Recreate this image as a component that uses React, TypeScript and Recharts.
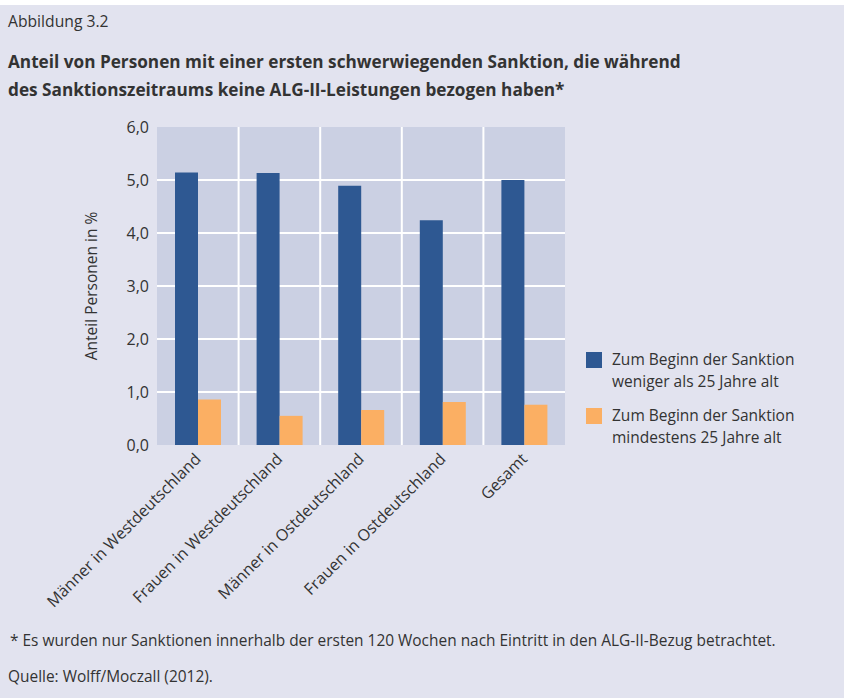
import React from "react";
import { BarChart, Bar, XAxis, YAxis, CartesianGrid, Legend } from "recharts";

const categories = [
  "Männer in Westdeutschland",
  "Frauen in Westdeutschland",
  "Männer in Ostdeutschland",
  "Frauen in Ostdeutschland",
  "Gesamt",
];
const under25 = [5.14, 5.13, 4.89, 4.24, 5.0];
const over25 = [0.86, 0.55, 0.66, 0.81, 0.76];
const yTicks = [0, 1, 2, 3, 4, 5, 6];
const gridValues = [1, 2, 3, 4, 5];
const seriesLines = [
  ["Zum Beginn der Sanktion", "weniger als 25 Jahre alt"],
  ["Zum Beginn der Sanktion", "mindestens 25 Jahre alt"],
];
const seriesKeys = ["under25", "over25"];
const seriesColors = ["#2e5892", "#fbaf63"];

const data = categories.map((name, i) => ({ name, under25: under25[i], over25: over25[i] }));

const FONT = "'Open Sans', sans-serif";
const TXT = "#333333";

const W = 844;
const H = 698;
const PLOT_L = 157;
const PLOT_R = 565;
const PLOT_T = 127;
const PLOT_B = 445;
const YW = 75;
const XH = 160;

function XTick(props: any) {
  const { x, y, payload } = props;
  return (
    <g transform={`translate(${x - 4},${y - 1}) rotate(-45)`}>
      <text x={0} y={0} dy="0.71em" textAnchor="end" fontSize={16} fill={TXT} fontFamily={FONT}>
        {payload.value}
      </text>
    </g>
  );
}

function LegendContent() {
  return (
    <div style={{ fontFamily: FONT, fontSize: 15.5, color: TXT, lineHeight: "22px" }}>
      {seriesLines.map((lines, i) => (
        <div key={i} style={{ display: "flex", alignItems: "flex-start", marginBottom: 12 }}>
          <div style={{ width: 16, height: 16, background: seriesColors[i], marginTop: 4, marginRight: 10, flexShrink: 0 }} />
          <div>
            {lines.map((l, j) => (
              <div key={j}>{l}</div>
            ))}
          </div>
        </div>
      ))}
    </div>
  );
}

export default function App() {
  return (
    <div style={{ position: "absolute", left: 0, top: 0, width: W, height: H, background: "#ffffff", overflow: "hidden" }}>
      <div style={{ position: "absolute", left: 0, top: 5, width: W, height: H - 5, background: "#e2e3ef" }} />
      <div style={{ position: "absolute", left: 8, top: 10, fontFamily: FONT, fontSize: 15.7, color: TXT }}>Abbildung 3.2</div>
      <div style={{ position: "absolute", left: 8, top: 48, fontFamily: FONT, fontSize: 17.2, fontWeight: 700, color: TXT, lineHeight: "28px", whiteSpace: "nowrap" }}>
        <div>Anteil von Personen mit einer ersten schwerwiegenden Sanktion, die während</div>
        <div>des Sanktionszeitraums keine ALG-II-Leistungen bezogen haben*</div>
      </div>
      <div style={{ position: "absolute", left: 0, top: 0 }}>
        <BarChart
          width={W}
          height={H}
          data={data}
          margin={{ top: PLOT_T, right: W - PLOT_R, bottom: H - PLOT_B - XH, left: PLOT_L - YW }}
          barGap={0}
          barSize={23}
        >
          <CartesianGrid
            fill="#cbd0e3"
            stroke="#ffffff"
            strokeWidth={2}
            horizontalCoordinatesGenerator={({ offset }: any) =>
              gridValues.map((v) => offset.top + offset.height * (1 - v / 6))
            }
            verticalCoordinatesGenerator={({ offset }: any) =>
              [1, 2, 3, 4].map((i) => offset.left + (offset.width * i) / categories.length)
            }
          />
          <XAxis dataKey="name" interval={0} tickLine={false} axisLine={false} height={XH} tick={<XTick />} />
          <YAxis
            width={YW}
            domain={[0, 6]}
            ticks={yTicks}
            tickLine={false}
            axisLine={false}
            tickFormatter={(v: number) => v.toFixed(1).replace(".", ",")}
            tick={{ fontSize: 16, fill: TXT, fontFamily: FONT }}
            label={{
              value: "Anteil Personen in %",
              content: ({ viewBox }: any) => (
                <text
                  x={viewBox.x + 9}
                  y={viewBox.y + viewBox.height / 2}
                  transform={`rotate(-90, ${viewBox.x + 9}, ${viewBox.y + viewBox.height / 2})`}
                  textAnchor="middle"
                  dominantBaseline="central"
                  fontSize={15.5}
                  fill={TXT}
                  fontFamily={FONT}
                >
                  Anteil Personen in %
                </text>
              ),
            }}
          />
          <Legend
            layout="vertical"
            align="center"
            verticalAlign="middle"
            content={<LegendContent />}
            wrapperStyle={{ position: "absolute", left: 586, top: 348, width: 250 }}
          />
          {seriesKeys.map((k, i) => (
            <Bar key={k} dataKey={k} fill={seriesColors[i]} isAnimationActive={false} />
          ))}
        </BarChart>
      </div>
      <div style={{ position: "absolute", left: 10, top: 629, fontFamily: FONT, fontSize: 15.45, color: TXT, whiteSpace: "nowrap" }}>
        * Es wurden nur Sanktionen innerhalb der ersten 120 Wochen nach Eintritt in den ALG-II-Bezug betrachtet.
      </div>
      <div style={{ position: "absolute", left: 8, top: 665, fontFamily: FONT, fontSize: 15.45, color: TXT }}>
        Quelle: Wolff/Moczall (2012).
      </div>
    </div>
  );
}
